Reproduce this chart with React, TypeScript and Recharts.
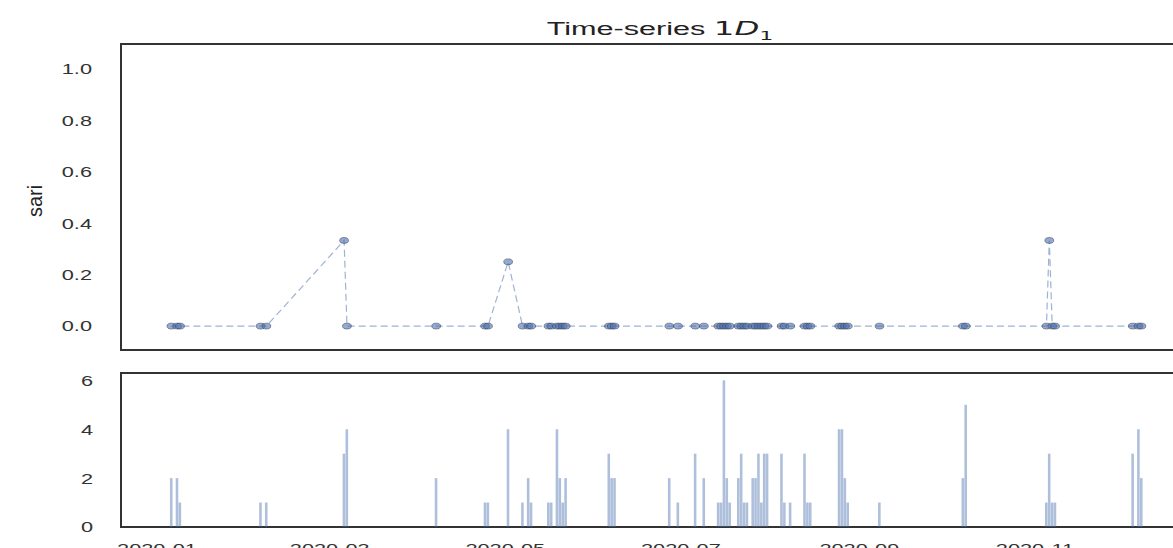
import React from 'react';
import { LineChart, Line, BarChart, Bar, XAxis, YAxis, ReferenceArea } from 'recharts';

// one entry per day that has observations
const dates = [
  '2020-01-06', '2020-01-08', '2020-01-09', '2020-02-06', '2020-02-08',
  '2020-03-06', '2020-03-07', '2020-04-07', '2020-04-24', '2020-04-25',
  '2020-05-02', '2020-05-07', '2020-05-09', '2020-05-10', '2020-05-16',
  '2020-05-17', '2020-05-19', '2020-05-20', '2020-05-21', '2020-05-22',
  '2020-06-06', '2020-06-07', '2020-06-08', '2020-06-27', '2020-06-30',
  '2020-07-06', '2020-07-09', '2020-07-14', '2020-07-15', '2020-07-16',
  '2020-07-17', '2020-07-18', '2020-07-21', '2020-07-22', '2020-07-23',
  '2020-07-24', '2020-07-26', '2020-07-27', '2020-07-28', '2020-07-29',
  '2020-07-30', '2020-07-31', '2020-08-05', '2020-08-06', '2020-08-08',
  '2020-08-13', '2020-08-14', '2020-08-15', '2020-08-25', '2020-08-26',
  '2020-08-27', '2020-08-28', '2020-09-08', '2020-10-07', '2020-10-08',
  '2020-11-05', '2020-11-06', '2020-11-07', '2020-11-08', '2020-12-05',
  '2020-12-07', '2020-12-08',
];

const counts = [
  2, 2, 1, 1, 1,
  3, 4, 2, 1, 1,
  4, 1, 2, 1, 1,
  1, 4, 2, 1, 2,
  3, 2, 2, 2, 1,
  3, 2, 1, 1, 6,
  2, 1, 2, 3, 1,
  1, 2, 2, 3, 1,
  3, 3, 3, 1, 1,
  3, 1, 1, 4, 4,
  2, 1, 1, 2, 5,
  1, 3, 1, 1, 3,
  4, 2,
];

const sari = [
  0, 0, 0, 0, 0,
  0.333, 0, 0, 0, 0,
  0.25, 0, 0, 0, 0,
  0, 0, 0, 0, 0,
  0, 0, 0, 0, 0,
  0, 0, 0, 0, 0,
  0, 0, 0, 0, 0,
  0, 0, 0, 0, 0,
  0, 0, 0, 0, 0,
  0, 0, 0, 0, 0,
  0, 0, 0, 0, 0,
  0, 0.333, 0, 0, 0,
  0, 0,
];

const sariTicks = [0, 0.2, 0.4, 0.6, 0.8, 1.0];
const countTicks = [0, 2, 4, 6];
const monthTicks = ['2020-01-01', '2020-03-01', '2020-05-01', '2020-07-01', '2020-09-01', '2020-11-01'];

const T0 = Date.parse('2020-01-01');
const toDay = (s: string) => (Date.parse(s) - T0) / 86400000;
const fromDay = (d: number) => new Date(T0 + d * 86400000).toISOString().slice(0, 7);

const X_DOMAIN: [number, number] = [-12.5, 362];
const TOP_DOMAIN: [number, number] = [-0.093, 1.097];
const BOTTOM_DOMAIN: [number, number] = [0, 6.3];

const lineData = dates.map((d, i) => ({ day: toDay(d), sari: sari[i] }));
const barData = dates.map((d, i) => ({ day: toDay(d), count: counts[i] }));

const FONT = '"Liberation Sans", Arial, sans-serif';
const SX = 1.45;
const SPINE = '#333333';
const BLUE = '#4c72b0';

const YTick = (props: any) => {
  const { x, y, payload, fmt } = props;
  return (
    <text transform={`translate(${x},${y}) scale(${SX},1)`} textAnchor="end" dy="0.36em"
      fontSize={15} fill="#333" fontFamily={FONT}>
      {fmt(payload.value)}
    </text>
  );
};

const XTick = (props: any) => {
  const { x, y, payload } = props;
  return (
    <text transform={`translate(${x},${y}) scale(${SX},1)`} textAnchor="middle" dy="0.71em"
      fontSize={15} fill="#333" fontFamily={FONT}>
      {fromDay(payload.value)}
    </text>
  );
};

const Dot = (props: any) => {
  const { cx, cy, index } = props;
  if (cx == null || cy == null) return null;
  return (
    <ellipse key={index} cx={cx} cy={cy} rx={4.4} ry={2.9} fill={BLUE} fillOpacity={0.6}
      stroke="#3b4154" strokeOpacity={0.55} strokeWidth={1} />
  );
};

export default function App() {
  return (
    <div style={{ position: 'absolute', left: 0, top: 0, width: 1173, height: 548, overflow: 'hidden', background: '#fff', fontFamily: FONT }}>
      <div style={{ position: 'absolute', left: 0, top: 17, width: 1320, textAlign: 'center', fontSize: 18, color: '#222', transform: 'scaleX(1.7)', transformOrigin: '660px 0', whiteSpace: 'nowrap' }}>
        Time-series{' '}
        <span style={{ fontFamily: '"DejaVu Sans", sans-serif', fontSize: 19 }}>
          1<i>D</i><sub style={{ fontSize: 13 }}>1</sub>
        </span>
      </div>
      <div style={{ position: 'absolute', left: 35, top: 201, fontSize: 20, color: '#222', transform: 'translate(-50%, -50%) rotate(-90deg)', whiteSpace: 'nowrap' }}>
        sari
      </div>

      <div style={{ position: 'absolute', left: 0, top: 0 }}>
        <LineChart width={1220} height={352} data={lineData} margin={{ top: 44, right: 21, left: 0, bottom: 2 }}>
          <XAxis dataKey="day" type="number" domain={X_DOMAIN} allowDataOverflow hide />
          <YAxis type="number" domain={TOP_DOMAIN} ticks={sariTicks} width={121} axisLine={false} tickLine={false}
            tickSize={0} tickMargin={29} allowDataOverflow
            tick={<YTick fmt={(v: number) => v.toFixed(1)} />} />
          <Line type="linear" dataKey="sari" stroke={BLUE} strokeOpacity={0.55} strokeWidth={1.2}
            strokeDasharray="7 4" dot={<Dot />} activeDot={false} isAnimationActive={false} />
          <ReferenceArea x1={X_DOMAIN[0]} x2={X_DOMAIN[1]} y1={TOP_DOMAIN[0]} y2={TOP_DOMAIN[1]}
            fill="none" fillOpacity={0} stroke={SPINE} strokeWidth={2} strokeOpacity={1} />
        </LineChart>
      </div>

      <div style={{ position: 'absolute', left: 0, top: 371 }}>
        <BarChart width={1220} height={200} data={barData} margin={{ top: 2, right: 21, left: 0, bottom: 0 }}>
          <XAxis dataKey="day" type="number" domain={X_DOMAIN} allowDataOverflow
            ticks={monthTicks.map(toDay)} axisLine={false} tickLine={false} tickSize={0} tickMargin={16}
            height={44} tick={<XTick />} />
          <YAxis type="number" domain={BOTTOM_DOMAIN} ticks={countTicks} width={121} axisLine={false} tickLine={false}
            tickSize={0} tickMargin={28} allowDataOverflow
            tick={<YTick fmt={(v: number) => String(v)} />} />
          <Bar dataKey="count" fill={BLUE} fillOpacity={0.45} barSize={3} isAnimationActive={false} />
          <ReferenceArea x1={X_DOMAIN[0]} x2={X_DOMAIN[1]} y1={BOTTOM_DOMAIN[0]} y2={BOTTOM_DOMAIN[1]}
            fill="none" fillOpacity={0} stroke={SPINE} strokeWidth={2} strokeOpacity={1} />
        </BarChart>
      </div>
    </div>
  );
}
